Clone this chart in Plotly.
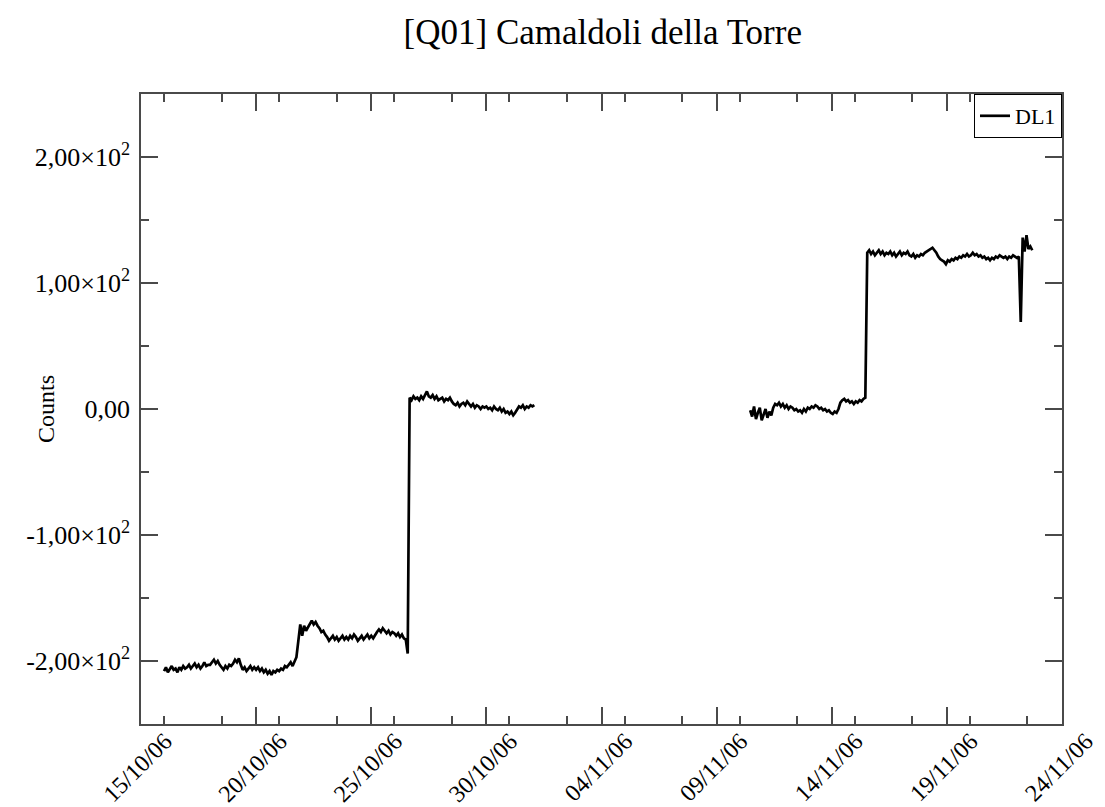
import plotly.graph_objects as go
import pandas as pd

# DL1 counts, one reading every 2 hours
SAMPLE_HOURS = 2

seg1_start = "2006-10-16 00:00"
seg1_counts = [
    -208, -205, -209, -206, -204, -207, -206, -209, -205, -207, -204, -206,
    -205, -203, -206, -204, -202, -205, -203, -206, -204, -201, -204, -203,
    -203, -201, -199, -202, -200, -203, -205, -207, -204, -206, -203, -204,
    -202, -199, -201, -198, -203, -207, -205, -208, -206, -204, -207, -205,
    -207, -205, -208, -206, -209, -207, -210, -208, -211, -208, -209, -207,
    -208, -206, -207, -204, -205, -203, -201, -204, -200, -197, -184, -171,
    -180, -172, -176, -173, -170, -168, -171, -169, -172, -174, -177, -176,
    -179, -181, -184, -182, -180, -183, -181, -184, -182, -180, -183, -181,
    -183, -180, -182, -179, -181, -184, -182, -180, -183, -181, -179, -182,
    -180, -182, -179, -177, -175, -177, -174, -176, -178, -176, -179, -177,
    -178, -180, -178, -181, -179, -182, -183, -194, 9, 7, 10, 8,
    9, 7, 10, 8, 11, 14, 10, 9, 11, 8, 10, 7,
    8, 9, 6, 8, 7, 9, 6, 4, 3, 5, 2, 4,
    5, 3, 6, 4, 2, 4, 1, 3, 2, 0, 2, 1,
    2, 0, 1, -1, 2, 0, -1, 1, -2, 0, -3, -2,
    -4, -2, -5, -3, 0, 2, 1, 3, 0, 2, 1, 3,
    2, 3,
]

seg2_start = "2006-11-10 11:00"
seg2_counts = [
    -1, -6, 2, -8, -3, 1, -9, -4, 0, -7, -2, -5,
    1, 4, 3, 5, 2, 4, 1, 3, 0, 2, 1, -1,
    0, -2, -1, -3, 0, -2, 1, 0, 2, 1, 3, 2,
    0, 1, -1, 0, -2, -1, -3, -4, -2, -3, 0, 5,
    7, 8, 6, 7, 5, 6, 4, 6, 5, 7, 6, 8,
    9, 124, 126, 123, 125, 122, 124, 126, 123, 125, 122, 124,
    123, 125, 122, 124, 121, 123, 125, 122, 124, 123, 125, 122,
    121, 123, 120, 122, 121, 123, 122, 124, 125, 126, 127, 128,
    126, 124, 121, 119, 118, 117, 115, 118, 117, 119, 118, 120,
    119, 121, 120, 122, 121, 123, 121, 122, 124, 122, 123, 121,
    122, 120, 121, 119, 120, 118, 120, 119, 121, 120, 122, 121,
    120, 121, 119, 121, 120, 122, 121, 120, 121, 69, 136, 125,
    138, 127, 129, 126,
]

# moment with no data, used to break the line between the two recordings
gap_time = "2006-11-05 00:00"

y_tickvals = [-200, -100, 0, 100, 200]
y_ticktext = ["-2,00×10<sup>2</sup>", "-1,00×10<sup>2</sup>", "0,00",
              "1,00×10<sup>2</sup>", "2,00×10<sup>2</sup>"]

x_range = ["2006-10-15", "2006-11-24"]
y_range = [-250, 250]


def timestamps(start, n):
    return list(pd.date_range(start, periods=n, freq=f"{SAMPLE_HOURS}h"))


x = timestamps(seg1_start, len(seg1_counts)) + [pd.Timestamp(gap_time)] + \
    timestamps(seg2_start, len(seg2_counts))
y = seg1_counts + [None] + seg2_counts

SERIF = "Liberation Serif, Times New Roman, serif"
AXIS_COLOR = "#4a4a4a"
DAY_MS = 86400000

fig = go.Figure()
fig.add_trace(go.Scatter(
    x=x, y=y, mode="lines", name="DL1",
    line=dict(color="black", width=2.7),
    connectgaps=False,
))

fig.update_layout(
    width=1105, height=807,
    margin=dict(l=141, r=43, t=94, b=83, autoexpand=False),
    paper_bgcolor="white", plot_bgcolor="white",
    font=dict(family=SERIF, color="black"),
    title=dict(text="[Q01] Camaldoli della Torre", x=0.5455, xanchor="center",
               y=0.976, yanchor="top", font=dict(family=SERIF, size=35, color="black")),
    showlegend=True,
    legend=dict(x=1, y=1, xanchor="right", yanchor="top",
                bordercolor="black", borderwidth=1, bgcolor="white",
                font=dict(family=SERIF, size=22, color="black"),
                tracegroupgap=0),
)

fig.update_xaxes(
    type="date", range=x_range, automargin=False,
    tick0=x_range[0], dtick=5 * DAY_MS, tickformat="%d/%m/%y",
    tickangle=-45, ticklabelshift=24, ticklabelstandoff=-8,
    tickfont=dict(family=SERIF, size=24, color="black"),
    ticks="inside", ticklen=17, tickwidth=1.5, tickcolor=AXIS_COLOR,
    minor=dict(dtick=2.5 * DAY_MS, ticks="inside", ticklen=8,
               tickwidth=1.5, tickcolor=AXIS_COLOR, showgrid=False),
    showline=True, linecolor=AXIS_COLOR, linewidth=1.5, mirror="ticks",
    showgrid=False, zeroline=False,
)

fig.update_yaxes(
    range=y_range, tickvals=y_tickvals, ticktext=y_ticktext, automargin=False,
    tickfont=dict(family=SERIF, size=26, color="black"),
    ticks="inside", ticklen=17, tickwidth=1.5, tickcolor=AXIS_COLOR,
    minor=dict(tickvals=[-150, -50, 50, 150], ticks="inside", ticklen=8,
               tickwidth=1.5, tickcolor=AXIS_COLOR, showgrid=False),
    showline=True, linecolor=AXIS_COLOR, linewidth=1.5, mirror="ticks",
    showgrid=False, zeroline=False, ticklabelstandoff=4,
)

fig.add_annotation(
    text="Counts", xref="paper", yref="paper", x=0, y=0.5,
    xanchor="center", yanchor="middle", xshift=-95, textangle=-90,
    showarrow=False, font=dict(family=SERIF, size=24, color="black"),
)

fig.write_html("out.html")
